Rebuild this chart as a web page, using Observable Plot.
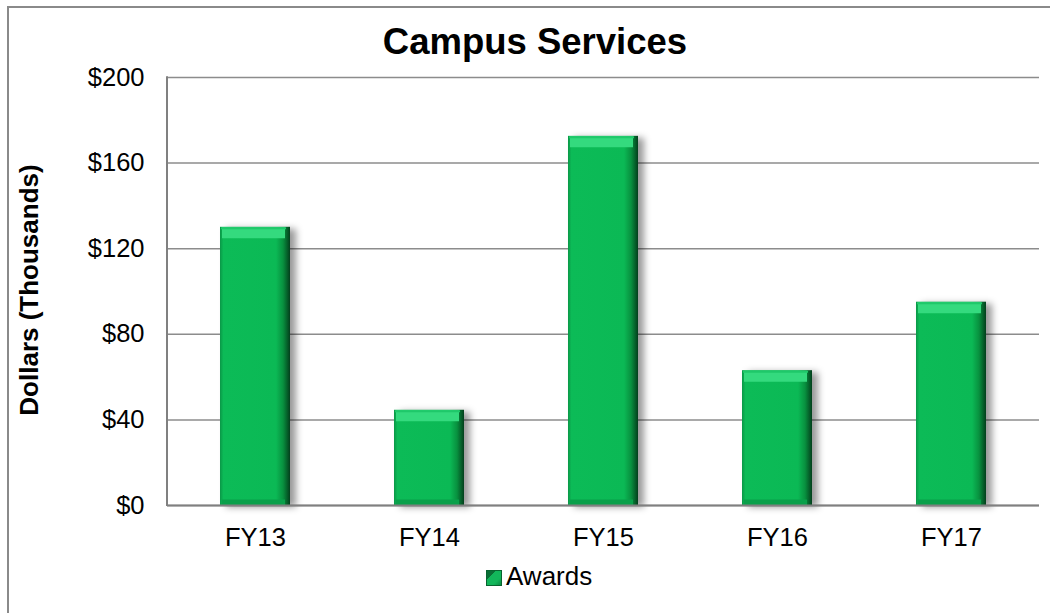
<!DOCTYPE html>
<html>
<head>
<meta charset="utf-8">
<script src="https://cdn.jsdelivr.net/npm/d3@7"></script>
<script src="https://cdn.jsdelivr.net/npm/@observablehq/plot@0.6"></script>
<style>
  body { margin: 0; background: #fff; font-family: "Liberation Sans", Arial, sans-serif; }
  #wrap { position: relative; width: 1050px; height: 613px; overflow: hidden; background: #fff; }
  #border { position: absolute; left: 7px; top: 6px; width: 1070px; height: 700px; border: 2px solid #8a8a8a; box-sizing: border-box; }
  #chart { position: absolute; left: 0; top: 0; }
  #title { position: absolute; left: 535px; top: 24px; transform: translateX(-50%); font-size: 36.5px; line-height: 36px; font-weight: bold; white-space: nowrap; color: #000; }
  #ylabel { position: absolute; left: 29px; top: 290px; transform: translate(-50%, -50%) rotate(-90deg); font-size: 26px; line-height: 26px; font-weight: bold; white-space: nowrap; color: #000; }
  #legend { position: absolute; left: 486px; top: 563px; height: 26px; white-space: nowrap; }
  #legend .sw { position: absolute; left: 0; top: 7px; width: 16px; height: 16px; box-sizing: border-box; background: linear-gradient(135deg, #0a6e35 0%, #0a6e35 30%, #12b65a 31%, #12b65a 70%, #0a8a42 100%); border: 1px solid #08632f; }
  #legend .lt { position: absolute; left: 20px; top: 0; font-size: 26px; line-height: 26px; color: #000; }
</style>
</head>
<body>
<div id="wrap">
  <div id="border"></div>
  <div id="chart"></div>
  <div id="title">Campus Services</div>
  <div id="ylabel">Dollars (Thousands)</div>
  <div id="legend"><div class="sw"></div><div class="lt">Awards</div></div>
</div>
<script>
const years = ["FY13", "FY14", "FY15", "FY16", "FY17"];
const awards = [130, 44.5, 172.5, 63, 95];
const yTicks = [0, 40, 80, 120, 160, 200];

const data = years.map((year, i) => ({year, value: awards[i]}));

const chart = Plot.plot({
  width: 1050,
  height: 613,
  marginLeft: 167,
  marginRight: 11,
  marginTop: 77,
  marginBottom: 108,
  style: {fontFamily: '"Liberation Sans", Arial, sans-serif', background: "transparent", color: "#000", overflow: "visible"},
  x: {domain: years, paddingInner: 0.6, paddingOuter: 0.3, label: null},
  y: {domain: [0, 200], label: null},
  marks: [
    Plot.ruleY(yTicks, {stroke: "#8c8c8c", strokeWidth: 1.5}),
    Plot.barY(data, {x: "year", y: "value", fill: "#000", fillOpacity: 0.4, dx: 6, dy: 2}),
    Plot.barY(data, {x: "year", y: "value", fill: "url(#faceGrad)"}),
    Plot.tickY(data, {x: "year", y: "value", stroke: "#34da7e", strokeWidth: 11, dy: 5.5, insetLeft: 2, insetRight: 5}),
    Plot.tickY(data, {x: "year", y: "value", stroke: "#1fc86a", strokeWidth: 2, dy: 1, insetLeft: 1, insetRight: 4}),
    Plot.tickY(data, {x: "year", y: d => 0, stroke: "#09a04a", strokeWidth: 6, dy: -3, insetLeft: 2, insetRight: 5}),
    Plot.ruleY([0], {stroke: "#808080", strokeWidth: 2}),
    Plot.axisY(yTicks, {tickSize: 0, tickPadding: 23, fontSize: 25.5, tickFormat: d => "$" + d, label: null}),
    Plot.axisX({tickSize: 0, tickPadding: 22, fontSize: 25.5, label: null})
  ]
});

const svg = d3.select(chart);
const defs = svg.insert("defs", ":first-child");
const fg = defs.append("linearGradient").attr("id", "faceGrad").attr("x1", 0).attr("x2", 1).attr("y1", 0).attr("y2", 0);
[[0, "#0a9747"], [0.05, "#0cbb57"], [0.8, "#0bb955"], [0.9, "#08913f"], [1, "#033f1c"]]
  .forEach(([o, c]) => fg.append("stop").attr("offset", o).attr("stop-color", c));
const blur = defs.append("filter").attr("id", "blur").attr("x", "-50%").attr("y", "-10%").attr("width", "200%").attr("height", "120%");
blur.append("feGaussianBlur").attr("stdDeviation", 3.5);

const barGroups = chart.querySelectorAll('g[aria-label="bar"]');
if (barGroups.length) barGroups[0].setAttribute("filter", "url(#blur)");

// left axis line of the plot frame, positioned from the scales
const xs = chart.scale("x");
const ys = chart.scale("y");
const xLeft = Math.min(...xs.range);
svg.append("line")
  .attr("x1", xLeft).attr("x2", xLeft)
  .attr("y1", ys.apply(0) + 1).attr("y2", ys.apply(200) - 0.75)
  .attr("stroke", "#808080").attr("stroke-width", 2);

document.getElementById("chart").appendChild(chart);
</script>
</body>
</html>
